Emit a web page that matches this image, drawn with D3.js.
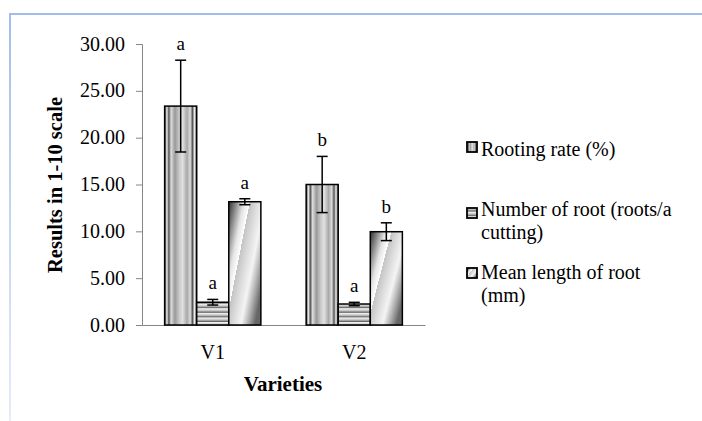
<!DOCTYPE html>
<html><head><meta charset="utf-8">
<script src="https://cdn.jsdelivr.net/npm/d3@7"></script>
<style>body{margin:0;background:#fff}svg{display:block}text{font-family:"Liberation Serif","Times New Roman",serif;fill:#000}</style>
</head><body><svg id="c" width="702" height="421"></svg>
<script>
const categories = ["V1", "V2"];
const seriesNames = ["Rooting rate (%)", "Number of root (roots/a cutting)", "Mean length of root (mm)"];
const legendLines = [["Rooting rate (%)"], ["Number of root (roots/a", "cutting)"], ["Mean length of root", "(mm)"]];
const rootingRate = [23.37, 15.0];
const rootingErr = [4.9, 3.0];
const rootCount = [2.43, 2.24];
const rootCountErr = [0.3, 0.18];
const rootLength = [13.16, 9.96];
const rootLengthErr = [0.32, 0.95];
const rootingLetters = ["a", "b"];
const rootCountLetters = ["a", "a"];
const rootLengthLetters = ["a", "b"];
const yTicks = [0, 5, 10, 15, 20, 25, 30];

const values = [rootingRate, rootCount, rootLength];
const errs = [rootingErr, rootCountErr, rootLengthErr];
const letters = [rootingLetters, rootCountLetters, rootLengthLetters];

const svg = d3.select("#c");
const defs = svg.append("defs");

// Fill 1: vertical stripes
const g1 = defs.append("linearGradient").attr("id","f0").attr("x1",0).attr("y1",0).attr("x2",1).attr("y2",0);
[[0,"#333"],[0.07,"#eee"],[0.13,"#555"],[0.2,"#ddd"],[0.32,"#999"],[0.45,"#c8c8c8"],[0.56,"#e0e0e0"],[0.7,"#a8a8a8"],[0.8,"#ddd"],[0.87,"#555"],[0.93,"#eee"],[1,"#444"]]
  .forEach(s=>g1.append("stop").attr("offset",s[0]).attr("stop-color",s[1]));
// Fill 2: horizontal stripes
const g2 = defs.append("linearGradient").attr("id","g1s").attr("x1",0).attr("y1",0).attr("x2",0).attr("y2",1);
[[0,"#fafafa"],[0.45,"#d0d0d0"],[0.8,"#888"],[1,"#444"]].forEach(s=>g2.append("stop").attr("offset",s[0]).attr("stop-color",s[1]));
const p2 = defs.append("pattern").attr("id","f1").attr("patternUnits","userSpaceOnUse").attr("width",40).attr("height",4.6);
p2.append("rect").attr("width",40).attr("height",4.6).attr("fill","url(#g1s)");
// Fill 3: diagonal gradient
const g3 = defs.append("linearGradient").attr("id","f2").attr("x1",0).attr("y1",0).attr("x2",1).attr("y2",0.75);
[[0,"#333"],[0.12,"#777"],[0.3,"#e4e4e4"],[0.42,"#fff"],[0.42,"#c4c4c4"],[0.6,"#e2e2e2"],[0.72,"#f4f4f4"],[0.86,"#b0b0b0"],[1,"#666"]]
  .forEach(s=>g3.append("stop").attr("offset",s[0]).attr("stop-color",s[1]));
// frame gradient
const gf = defs.append("linearGradient").attr("id","fr").attr("x1",0).attr("y1",0).attr("x2",0).attr("y2",1);
[[0,"#a4bcec"],[1,"#e6ecf8"]].forEach(s=>gf.append("stop").attr("offset",s[0]).attr("stop-color",s[1]));

svg.append("rect").attr("x",10).attr("y",13).attr("width",692).attr("height",2).attr("fill","#a4bcec");
svg.append("rect").attr("x",9).attr("y",13).attr("width",2).attr("height",408).attr("fill","url(#fr)");

const x0 = d3.scaleBand().domain(categories).range([142, 425]).paddingInner(0.32).paddingOuter(0.16);
const x1 = d3.scaleBand().domain(d3.range(3)).range([0, x0.bandwidth()]);
const y = d3.scaleLinear().domain([0, 30]).range([325, 44]);

// axes
const yAxis = svg.append("g").attr("transform","translate(142,0)")
  .call(d3.axisLeft(y).tickValues(yTicks).tickSize(6).tickPadding(11).tickFormat(d3.format(".2f")));
yAxis.select(".domain").attr("stroke","#868686");
yAxis.selectAll(".tick line").attr("stroke","#868686");
yAxis.selectAll(".tick text").attr("font-size",20).attr("font-family","Liberation Serif").attr("dy","0.3em").attr("fill","#000");

const xAxis = svg.append("g").attr("transform","translate(0,325)")
  .call(d3.axisBottom(x0).tickSize(0).tickPadding(20).tickSizeOuter(0));
xAxis.select(".domain").attr("stroke","#868686");
xAxis.selectAll(".tick text").attr("font-size",20).attr("font-family","Liberation Serif").attr("fill","#000");

// bars
categories.forEach((cat, ci) => {
  const g = svg.append("g").attr("transform", `translate(${x0(cat)},0)`);
  for (let si = 0; si < 3; si++) {
    const v = values[si][ci], e = errs[si][ci];
    const bx = x1(si), bw = x1.bandwidth();
    g.append("rect").attr("x", bx).attr("y", y(v)).attr("width", bw).attr("height", y(0) - y(v))
      .attr("fill", `url(#f${si})`).attr("stroke", "#000").attr("stroke-width", 1.5);
    const cx = bx + bw / 2;
    g.append("line").attr("x1",cx).attr("x2",cx).attr("y1",y(v+e)).attr("y2",y(v-e)).attr("stroke","#000").attr("stroke-width",1.5);
    [v+e, v-e].forEach(t => g.append("line").attr("x1",cx-5.5).attr("x2",cx+5.5).attr("y1",y(t)).attr("y2",y(t)).attr("stroke","#000").attr("stroke-width",1.5));
    g.append("text").attr("x", cx).attr("y", y(v+e) - 10).attr("text-anchor","middle").attr("font-size",19).text(letters[si][ci]);
  }
});

// axis titles
svg.append("text").attr("x",283).attr("y",391).attr("text-anchor","middle").attr("font-size",21).attr("font-weight","bold").text("Varieties");
svg.append("text").attr("transform","translate(62,185) rotate(-90)").attr("text-anchor","middle").attr("font-size",20.5).attr("font-weight","bold").text("Results in 1-10 scale");

// legend
const legY = [142, 208, 268];
const legBase = [[155.5], [215.5, 239], [279, 302]];
seriesNames.forEach((name, si) => {
  svg.append("rect").attr("x",467).attr("y",legY[si]).attr("width",10).attr("height",10)
    .attr("fill",`url(#f${si})`).attr("stroke","#000").attr("stroke-width",1.8);
  legendLines[si].forEach((ln, li) => {
    svg.append("text").attr("x",481).attr("y",legBase[si][li]).attr("font-size",20).text(ln);
  });
});
</script></body></html>
